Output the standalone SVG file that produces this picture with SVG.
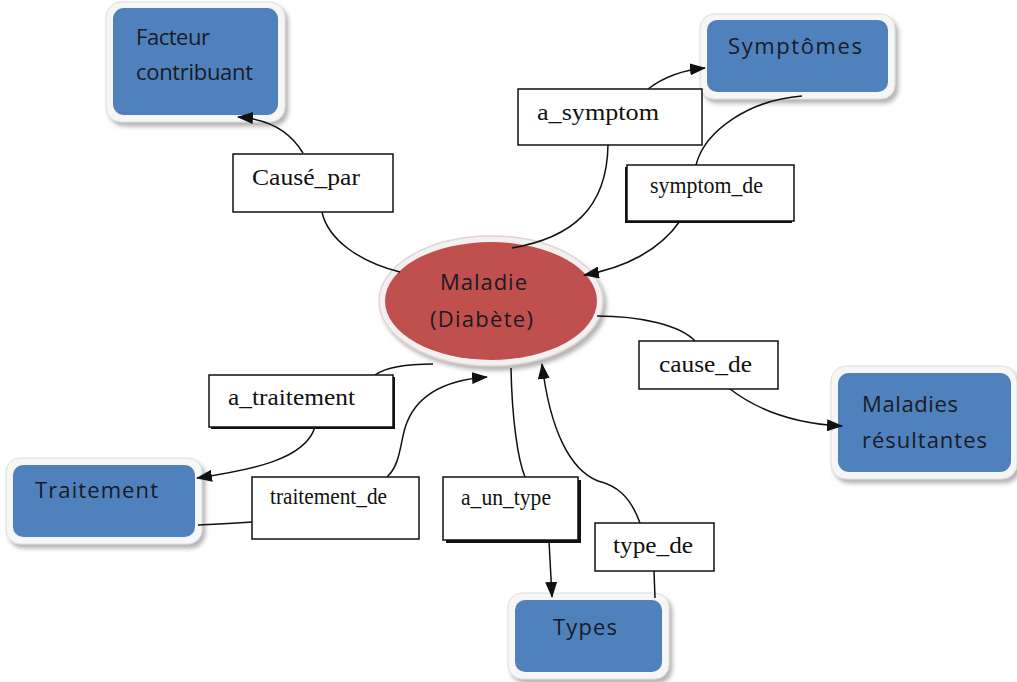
<svg xmlns="http://www.w3.org/2000/svg" width="1017" height="682" viewBox="0 0 1017 682">
<defs>
<style>
.frame{fill:#f6f6f6;stroke:#dcdcdc;stroke-width:1;filter:url(#sh)}
.blue{fill:#4F81BD}
.ntext{font-family:"Open Sans","Liberation Sans",sans-serif;font-size:22px;fill:#1a1a24}
.ltext{font-family:"Liberation Serif","Times New Roman",serif;font-size:24px;fill:#111}
.lbox{fill:#fff;stroke:#111;stroke-width:1.5}
.conn{fill:none;stroke:#111;stroke-width:1.5}
</style>
<filter id="sh" x="-20%" y="-20%" width="140%" height="150%">
<feDropShadow dx="3" dy="4" stdDeviation="2" flood-color="#777" flood-opacity="0.55"/>
</filter>
<marker id="arr" markerUnits="userSpaceOnUse" markerWidth="16" markerHeight="12" refX="15" refY="6" orient="auto">
<path d="M0,0 L16,6 L0,12 Z" fill="#111"/>
</marker>
</defs>
<rect width="1017" height="682" fill="#fff"/>

<g id="maladie">
<ellipse cx="491" cy="301" rx="112" ry="65" fill="#f4f0f0" stroke="#e2d4d4" stroke-width="1.5" filter="url(#sh)"/>
<ellipse cx="491" cy="301" rx="106" ry="59" fill="#C0504D"/>
<text class="ntext" x="440" y="290" textLength="87" lengthAdjust="spacing" fill="#2a1616">Maladie</text>
<text class="ntext" x="430" y="327" textLength="103" lengthAdjust="spacing" fill="#2a1616">(Diabète)</text>
</g>

<g id="facteur">
<rect class="frame" x="106" y="2" width="179" height="120" rx="15"/>
<rect class="blue" x="113" y="8" width="165" height="107" rx="11"/>
<text class="ntext" x="136" y="45" font-size="21" textLength="74" lengthAdjust="spacing">Facteur</text>
<text class="ntext" x="136" y="80" font-size="21" textLength="117" lengthAdjust="spacing">contribuant</text>
</g>

<g id="symptomes">
<rect class="frame" x="700" y="14" width="195" height="85" rx="14"/>
<rect class="blue" x="707" y="20" width="181" height="72" rx="10"/>
<text class="ntext" x="728" y="54" font-size="23" textLength="134" lengthAdjust="spacing">Symptômes</text>
</g>

<g id="traitement">
<rect class="frame" x="6" y="458" width="196" height="86" rx="14"/>
<rect class="blue" x="13" y="465" width="182" height="72" rx="10"/>
<text class="ntext" x="35" y="498" textLength="123" lengthAdjust="spacing">Traitement</text>
</g>

<g id="types">
<rect class="frame" x="508" y="593" width="161" height="86" rx="14"/>
<rect class="blue" x="515" y="600" width="147" height="72" rx="10"/>
<text class="ntext" x="553" y="635" textLength="64" lengthAdjust="spacing">Types</text>
</g>

<g id="maladies-resultantes">
<rect class="frame" x="831" y="366" width="186" height="113" rx="15"/>
<rect class="blue" x="838" y="373" width="173" height="99" rx="11"/>
<text class="ntext" x="862" y="412" font-size="23" textLength="96" lengthAdjust="spacing">Maladies</text>
<text class="ntext" x="862" y="448" font-size="23" textLength="125" lengthAdjust="spacing">résultantes</text>
</g>

<g id="connectors">
<path class="conn" d="M400,272 C360,262 328,240 322,212"/>
<path class="conn" d="M303,153 C290,131 268,119 238,117" marker-end="url(#arr)"/>
<path class="conn" d="M512,248 C570,238 607,210 608,145"/>
<path class="conn" d="M648,89 C665,76 683,70 705,68" marker-end="url(#arr)"/>
<path class="conn" d="M802,96 C750,100 705,130 696,165"/>
<path class="conn" d="M680,221 C660,250 625,268 584,275" marker-end="url(#arr)"/>
<path class="conn" d="M597,316 C640,316 680,325 695,341"/>
<path class="conn" d="M730,389 C760,412 800,424 842,426" marker-end="url(#arr)"/>
<path class="conn" d="M511,368 C512,420 518,460 525,477"/>
<path class="conn" d="M549,541 L552,597" marker-end="url(#arr)"/>
<path class="conn" d="M655,598 L654,571"/>
<path class="conn" d="M640,523 C630,495 615,485 598,481 C570,470 550,430 542,364" marker-end="url(#arr)"/>
<path class="conn" d="M433,364 C405,364 385,368 375,375"/>
<path class="conn" d="M315,427 C305,460 250,470 197,478" marker-end="url(#arr)"/>
<path class="conn" d="M198,525 C220,524 238,523 252,522"/>
<path class="conn" d="M387,477 C400,465 400,445 405,428 C415,395 445,380 487,377" marker-end="url(#arr)"/>
</g>

<g id="lbl-cause-par">
<rect class="lbox" x="233" y="154" width="160" height="58"/>
<text class="ltext" x="252" y="185" textLength="108" lengthAdjust="spacingAndGlyphs">Causé_par</text>
</g>

<g id="lbl-a-symptom">
<rect class="lbox" x="518" y="89" width="184" height="56"/>
<text class="ltext" x="537" y="120" textLength="122" lengthAdjust="spacingAndGlyphs">a_symptom</text>
</g>

<g id="lbl-symptom-de">
<rect x="625" y="167" width="167" height="56" fill="#111"/>
<rect class="lbox" x="627" y="165" width="167" height="56"/>
<text class="ltext" x="650" y="193" textLength="113" lengthAdjust="spacingAndGlyphs">symptom_de</text>
</g>

<g id="lbl-cause-de">
<rect class="lbox" x="639" y="341" width="139" height="48"/>
<text class="ltext" x="659" y="372" textLength="93" lengthAdjust="spacingAndGlyphs">cause_de</text>
</g>

<g id="lbl-a-traitement">
<rect x="211" y="377" width="184" height="52" fill="#111"/>
<rect class="lbox" x="209" y="375" width="184" height="52"/>
<text class="ltext" x="228" y="405" textLength="127" lengthAdjust="spacingAndGlyphs">a_traitement</text>
</g>

<g id="lbl-traitement-de">
<rect class="lbox" x="252" y="477" width="167" height="62"/>
<text class="ltext" x="270" y="504" textLength="117" lengthAdjust="spacingAndGlyphs">traitement_de</text>
</g>

<g id="lbl-a-un-type">
<rect x="446" y="480" width="135" height="63" fill="#111"/>
<rect class="lbox" x="443" y="477" width="135" height="63"/>
<text class="ltext" x="461" y="505" textLength="90" lengthAdjust="spacingAndGlyphs">a_un_type</text>
</g>

<g id="lbl-type-de">
<rect class="lbox" x="595" y="523" width="119" height="48"/>
<text class="ltext" x="613" y="553" textLength="80" lengthAdjust="spacingAndGlyphs">type_de</text>
</g>
</svg>
